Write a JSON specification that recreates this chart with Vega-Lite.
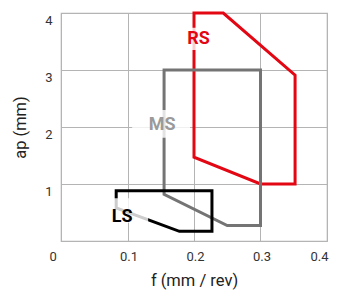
{
  "$schema": "https://vega.github.io/schema/vega-lite/v6.json",
  "autosize": "none",
  "width": 266,
  "height": 228,
  "padding": {"left": 61, "top": 13, "right": 17, "bottom": 49},
  "background": "white",
  "config": {
    "view": {"stroke": "#b4b4b4", "strokeWidth": 1.2},
    "font": "Roboto"
  },
  "datasets": {
    "shapes": [
      {"grade": "RS", "i": 1, "f": 0.2, "ap": 4.0},
      {"grade": "RS", "i": 2, "f": 0.244, "ap": 4.0},
      {"grade": "RS", "i": 3, "f": 0.352, "ap": 2.91},
      {"grade": "RS", "i": 4, "f": 0.352, "ap": 1.0},
      {"grade": "RS", "i": 5, "f": 0.3, "ap": 1.0},
      {"grade": "RS", "i": 6, "f": 0.2, "ap": 1.47},
      {"grade": "RS", "i": 7, "f": 0.2, "ap": 4.0},
      {"grade": "MS", "i": 1, "f": 0.155, "ap": 3.0},
      {"grade": "MS", "i": 2, "f": 0.3, "ap": 3.0},
      {"grade": "MS", "i": 3, "f": 0.3, "ap": 0.27},
      {"grade": "MS", "i": 4, "f": 0.25, "ap": 0.27},
      {"grade": "MS", "i": 5, "f": 0.155, "ap": 0.82},
      {"grade": "MS", "i": 6, "f": 0.155, "ap": 3.0},
      {"grade": "LS", "i": 1, "f": 0.083, "ap": 0.88},
      {"grade": "LS", "i": 2, "f": 0.227, "ap": 0.88},
      {"grade": "LS", "i": 3, "f": 0.227, "ap": 0.17},
      {"grade": "LS", "i": 4, "f": 0.178, "ap": 0.17},
      {"grade": "LS", "i": 5, "f": 0.083, "ap": 0.58},
      {"grade": "LS", "i": 6, "f": 0.083, "ap": 0.88}
    ],
    "labels": [
      {"grade": "RS", "f": 0.207, "ap": 3.54, "f1": 0.183, "f2": 0.232, "ap1": 3.35, "ap2": 3.74},
      {"grade": "MS", "f": 0.152, "ap": 2.04, "f1": 0.107, "f2": 0.194, "ap1": 1.81, "ap2": 2.3},
      {"grade": "LS", "f": 0.092, "ap": 0.42, "f1": 0.056, "f2": 0.131, "ap1": 0.32, "ap2": 0.75}
    ]
  },
  "layer": [
    {
      "data": {"name": "shapes"},
      "mark": {"type": "line", "strokeWidth": 3, "strokeJoin": "miter", "strokeCap": "square"},
      "encoding": {
        "x": {
          "field": "f", "type": "quantitative",
          "scale": {"domain": [0, 0.4], "nice": false, "zero": false},
          "axis": {
            "title": "f (mm / rev)",
            "values": [0, 0.1, 0.2, 0.3, 0.4],
            "format": "~g",
            "grid": true, "gridColor": "#b4b4b4", "gridWidth": 1,
            "domain": false, "ticks": false,
            "labelFontSize": 13, "labelColor": "#333",
            "labelPadding": 9,
            "labelOffset": {"condition": {"test": "datum.value == 0", "value": -12}, "value": 1},
            "titleFontSize": 16.5, "titleFontWeight": "normal", "titleColor": "#222",
            "titlePadding": 9
          }
        },
        "y": {
          "field": "ap", "type": "quantitative",
          "scale": {"domain": [0, 4], "nice": false},
          "axis": {
            "title": "ap (mm)",
            "values": [1, 2, 3, 4],
            "format": "d",
            "grid": true, "gridColor": "#b4b4b4", "gridWidth": 1,
            "domain": false, "ticks": false,
            "labelFontSize": 13, "labelColor": "#333",
            "labelPadding": 9,
            "labelOffset": 7,
            "titleFontSize": 16.5, "titleFontWeight": "normal", "titleColor": "#222",
            "titlePadding": 16
          }
        },
        "detail": {"field": "grade"},
        "order": {"field": "i", "type": "quantitative"},
        "color": {
          "field": "grade", "type": "nominal", "legend": null,
          "scale": {"domain": ["RS", "MS", "LS"], "range": ["#e30613", "#747474", "#000000"]}
        }
      }
    },
    {
      "data": {"name": "labels"},
      "mark": {"type": "rect", "fill": "white", "opacity": 0.8},
      "encoding": {
        "x": {"field": "f1", "type": "quantitative"},
        "x2": {"field": "f2"},
        "y": {"field": "ap1", "type": "quantitative"},
        "y2": {"field": "ap2"}
      }
    },
    {
      "data": {"name": "labels"},
      "mark": {"type": "text", "fontSize": 18, "fontWeight": "bold", "align": "center", "baseline": "middle"},
      "encoding": {
        "x": {"field": "f", "type": "quantitative"},
        "y": {"field": "ap", "type": "quantitative"},
        "text": {"field": "grade"},
        "color": {
          "field": "grade", "type": "nominal", "legend": null,
          "scale": {"domain": ["RS", "MS", "LS"], "range": ["#e30613", "#9a9a9a", "#000000"]}
        }
      }
    }
  ],
  "resolve": {"scale": {"color": "independent"}}
}
